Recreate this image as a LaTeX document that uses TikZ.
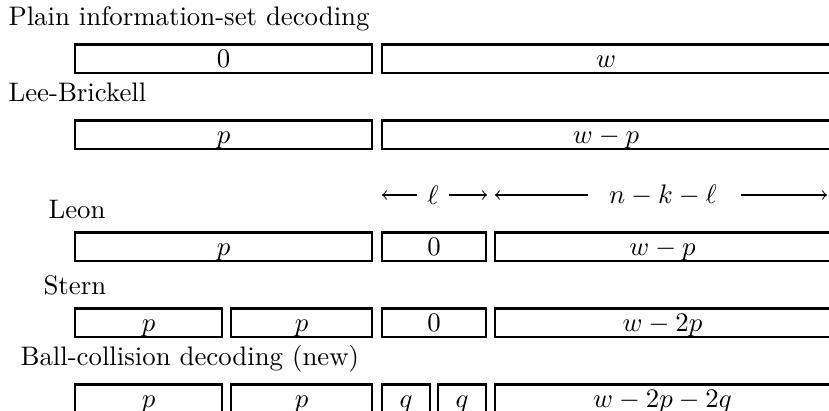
\documentclass[tikz,border=0pt]{standalone}
\usetikzlibrary{fit}
\tikzset{
  cell/.style={draw, line width=0.8pt, inner sep=0pt, outer sep=0pt},
  celltext/.style={anchor=base, inner sep=0pt, font=\fontsize{10}{12}\selectfont},
  caption/.style={anchor=base west, inner sep=0pt, font=\fontsize{10}{12}\selectfont},
  dimlabel/.style={inner sep=0pt, font=\fontsize{10}{12}\selectfont},
  dimarrow/.style={->, >=to, line width=0.4pt}
}
\newcommand\mycell[6]{%
  \node[cell, fit={(#2,#3) (#4,#5)}] (#1) {};
  \node[celltext] (#1t) at ([yshift=-3.3pt]#1.center) {$#6$};}
\begin{document}
\begin{tikzpicture}[x=0.3731pt, y=-0.3731pt, font=\fontsize{10}{12}\selectfont]
\useasboundingbox (0,0) rectangle (829,410);
% Plain
\node[caption] (cplain) at (8,25) {Plain information-set decoding};
\mycell{a1}{75}{44.5}{372}{73}{0}
\mycell{a2}{382}{44.5}{830}{73}{w}
% Lee-Brickell
\node[caption] (clee) at (8,101) {Lee-Brickell};
\mycell{b1}{75}{120.5}{372}{149}{p}
\mycell{b2}{382}{120.5}{830}{149}{w-p}
% dimension arrows
\node[dimlabel] (ell) at (433,195) {$\ell$};
\coordinate (ellL) at (382,195);
\coordinate (ellR) at (487,195);
\draw[dimarrow] ([xshift=-6pt]ell.center) -- (ellL);
\draw[dimarrow] ([xshift=6pt]ell.center) -- (ellR);
\node[dimlabel] (nkl) at (663,195) {$n-k-\ell$};
\coordinate (nklL) at (495,195);
\coordinate (nklR) at (827,195);
\draw[dimarrow] ([xshift=-28pt]nkl.center) -- (nklL);
\draw[dimarrow] ([xshift=29pt]nkl.center) -- (nklR);
% Leon
\node[caption] (cleon) at (48,218) {Leon};
\mycell{c1}{75}{232.5}{372}{261}{p}
\mycell{c2}{382}{232.5}{486}{261}{0}
\mycell{c3}{495}{232.5}{830}{261}{w-p}
% Stern
\node[caption] (cstern) at (43,294) {Stern};
\mycell{d1}{75}{308.5}{222}{337}{p}
\mycell{d2}{231}{308.5}{372}{337}{p}
\mycell{d3}{382}{308.5}{486}{337}{0}
\mycell{d4}{495}{308.5}{830}{337}{w-2p}
% Ball-collision
\node[caption] (cball) at (20,365) {Ball-collision decoding (new)};
\mycell{e1}{75}{384.5}{222}{413}{p}
\mycell{e2}{231}{384.5}{372}{413}{p}
\mycell{e3}{382}{384.5}{430}{413}{q}
\mycell{e4}{438}{384.5}{486}{413}{q}
\mycell{e5}{495}{384.5}{830}{413}{w-2p-2q}
\end{tikzpicture}
\end{document}
